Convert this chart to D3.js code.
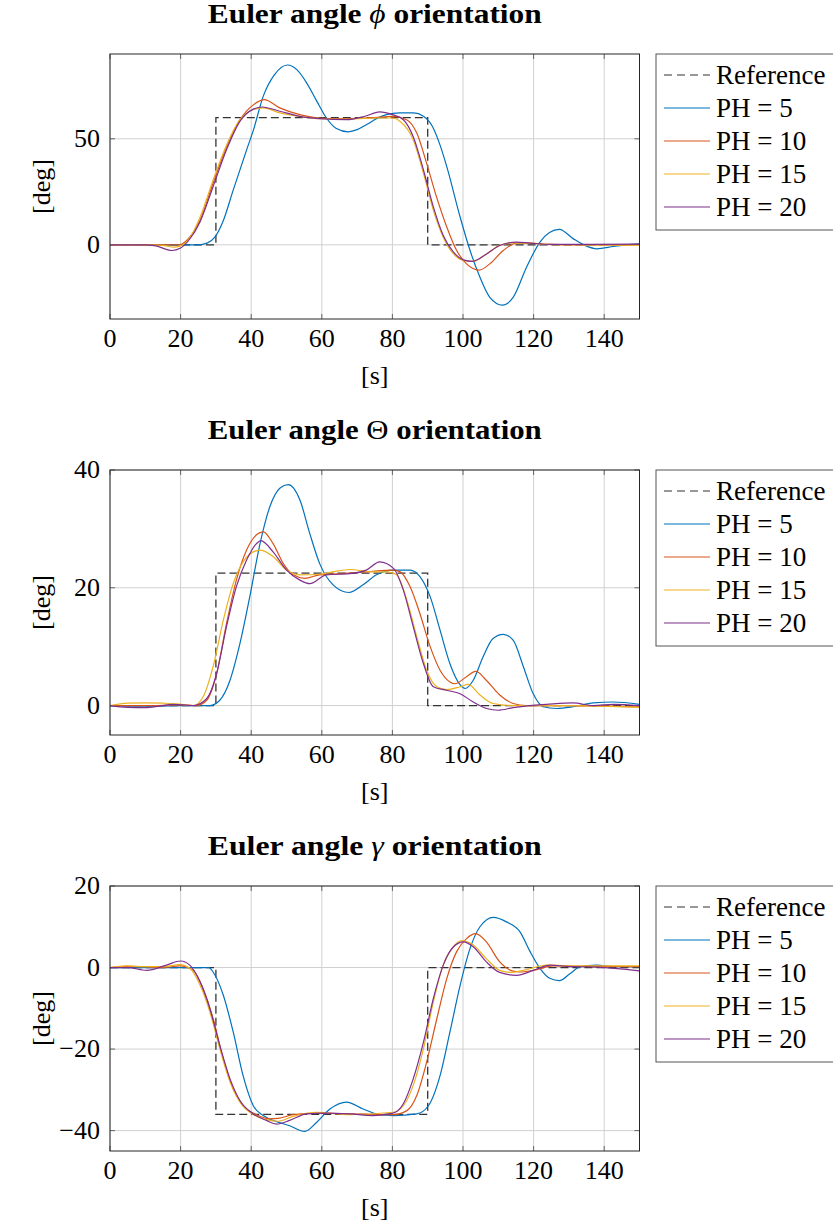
<!DOCTYPE html>
<html>
<head>
<meta charset="utf-8">
<script src="https://cdn.jsdelivr.net/npm/d3@7"></script>
<style>
    body { margin: 0; background: #fff; }
    text { font-family: "Liberation Serif", "DejaVu Serif", serif; fill: #000; }
</style>
</head>
<body>
<div id="chart"></div>
<script>
// x axis
const xTicks = [0, 20, 40, 60, 80, 100, 120, 140]
const seriesNames = ["PH = 5", "PH = 10", "PH = 15", "PH = 20"]
const seriesColors = ["#0072BD", "#D95319", "#EDB120", "#7E2F8E"]

/* PHI [t, deg] */
const phiRef = [[0, 0], [30, 60], [90, 0], [150, 0]]
const phiPH5 = [[0,0],[10,0],[20,0],[25,0],[27.5,0.8],[29.7,3.6],[32,11],[34.9,25.8],[38.7,44.8],[40.6,54],[43.4,70],[46.5,80],[50.3,84.8],[53,82.5],[55.7,76.4],[58.5,68],[61.3,59.8],[64,55],[67.5,53.3],[70,54.3],[72.6,56.6],[75.5,59.5],[78.3,61.4],[82,62.2],[86,62.2],[88.8,60.6],[91.6,55],[93.5,47],[95.4,36.9],[99.2,13],[102,-2.7],[104.8,-15.3],[107.6,-24.8],[111.2,-28.5],[114.2,-24.8],[118,-10.6],[121.8,1.3],[124.5,5.8],[127.3,7.3],[131.3,2.8],[134.6,-0.3],[137.9,-1.9],[142.6,-0.8],[146,0],[150,0.5]]
const phiPH10 = [[0,0],[10,0],[15,0],[19.8,0],[22,2.5],[25.5,11.6],[29.2,29],[33,46],[36.8,59],[40.6,66],[43.7,68.5],[48.1,64.6],[53.8,61.4],[59.4,59.8],[65,59.5],[70,59.6],[75,60],[80,60.6],[84,59],[86.9,52.7],[89.7,38.4],[92.5,22.6],[95.4,8.4],[98.2,-2.7],[101,-9],[104.6,-11.9],[107.6,-9],[111.4,-2.7],[115.2,0.8],[119,0.8],[123.7,0.2],[130,0],[150,0]]
const phiPH15 = [[0,0],[10,0],[15,-0.3],[18,-1.1],[20,-0.5],[22.5,3],[25.5,13],[29.2,30.5],[33,47],[36.8,59],[40.6,63.8],[43.4,64.6],[48.1,62.2],[53.8,60.6],[59.4,59.5],[65,59.3],[70,59.5],[75,59.8],[80,59.8],[82.2,58.2],[85.9,49.5],[88.8,33.7],[91.6,16.3],[94.4,3.6],[97.3,-4.3],[100.1,-7.4],[102.9,-7.8],[106.7,-4.3],[110.4,-0.3],[114.2,0.9],[119,0.8],[125,0.2],[135,0],[150,-0.3]]
const phiPH20 = [[0,0],[10,0],[13,-0.5],[17.5,-2.7],[20,-1.5],[22.5,2.5],[25.5,10.8],[29.2,27.4],[33,44.8],[36.8,58.2],[40.6,64],[43.1,65],[48.1,63],[53.8,60.6],[59.4,59.5],[67,59],[72,60.5],[76.4,62.7],[80,61.4],[83.1,59],[85.9,51],[88.8,35.3],[91.6,17.9],[94.4,4.4],[97.3,-3.5],[100.1,-7.1],[102.7,-7.8],[106.7,-4.3],[110.4,-0.3],[115.2,1.3],[119,0.8],[125,0.2],[150,0.3]]

/* THETA */
const thetaRef = [[0, 0], [30, 22.5], [90, 0], [150, 0]]
const thetaPH5 = [[0,0],[10,-0.1],[20,0],[25,0],[28.3,0],[31.1,0.9],[34,4.3],[36.8,10.5],[39.6,18.5],[42.5,27.5],[45.3,33.8],[48.1,36.9],[50.5,37.5],[53.8,34.9],[56.6,29.2],[59.4,24.1],[63.2,20.5],[67.7,19.2],[71.7,20.5],[75.5,22.2],[80.2,23],[85,23],[87.8,21.9],[90.7,18.5],[93.5,12.8],[96.3,7.1],[99.2,3.5],[100.6,2.9],[102.9,4.3],[105.7,8.3],[108.5,11.4],[111.4,12.1],[114.2,11.1],[117.1,6.6],[119.9,2],[122.7,-0.2],[126.5,-0.5],[131.2,-0.2],[136.9,0.45],[142.6,0.6],[150,0.2]]
const thetaPH10 = [[0,0],[10,0],[20,0.1],[24.5,0],[27.4,0.9],[30.2,5.4],[33,13.9],[35.8,21.3],[38.7,26.4],[41.5,29],[43.4,29.5],[46.2,27.5],[49.1,24.1],[51.9,22.2],[55.2,21.6],[59.4,22.2],[65.1,22.4],[72.6,22.7],[80.2,23],[82.2,22.7],[85,20.2],[87.8,15.6],[90.7,10],[93.5,6],[96.3,4],[97.7,3.7],[101,4.9],[103.6,5.8],[106.6,4.3],[110.4,1.8],[114.2,0.35],[117.9,0],[130,0],[150,-0.2]]
const thetaPH15 = [[0,0],[5,0.4],[10,0.45],[15,0.4],[18.9,0.3],[23.6,0],[26.4,1.5],[29.2,6.6],[32.1,14.5],[34.9,20.7],[37.7,24.4],[40.6,26.1],[42.6,26.4],[46.2,25.3],[50,23],[53.8,22.2],[59.4,22.3],[63,22.7],[67.9,23.1],[74.5,22.7],[78.4,22.7],[81.2,22.2],[84.1,17.9],[86.9,11.7],[89.7,6],[92.6,3.2],[95.4,2.7],[99.2,3.2],[101.5,3.6],[104.8,1.8],[108.5,0.35],[114.2,0],[130,0],[150,-0.3]]
const thetaPH20 = [[0,0],[5,-0.3],[10,-0.35],[14,-0.1],[17.9,0.2],[23.6,0],[27.4,1.2],[30.2,5.4],[33,13.4],[35.8,20.2],[38.7,24.7],[41.5,27.5],[42.7,28],[46.2,26.1],[50,23],[53.8,21.3],[56.6,20.7],[61.3,22.2],[67.9,22.4],[72.6,23],[76.4,24.4],[80.3,23.3],[83.1,19.6],[85.9,13.4],[88.8,7.1],[91.6,3.2],[95.4,2.6],[99.2,2],[102.9,0.6],[106.7,-0.5],[110,-0.8],[114.2,-0.35],[118.9,0],[123.6,0.2],[131.2,0.45],[136.9,0],[142.6,0.2],[150,0]]

/* GAMMA */
const gammaRef = [[0, 0], [30, -36], [90, 0], [150, 0]]
const gammaPH5 = [[0,0],[10,0],[20,0],[28,0],[29.2,-1.1],[32.1,-6.8],[34.9,-15.8],[37.7,-26.5],[40.6,-33.9],[43.4,-36.3],[47.2,-37.8],[50.9,-38.8],[55.2,-40.2],[58.5,-38],[62.3,-34.7],[67,-33],[71.7,-34.7],[76.4,-36.1],[80.2,-36.3],[86.9,-35.9],[90.2,-33.9],[93.5,-26.5],[96.3,-15.8],[99.2,-4.3],[102,4.7],[104.8,10],[108.6,12.3],[112.3,11.2],[116.1,8.8],[119,3.9],[121.8,-0.2],[124.7,-2.7],[127.3,-3.2],[130.3,-1.5],[133.2,0.2],[137.9,0.6],[142.6,0.2],[150,0.2]]
const gammaPH10 = [[0,0],[5,0.3],[10,0.2],[15,0],[19.8,0.4],[23.6,-0.7],[26.4,-5.2],[29.2,-12.5],[32.1,-22.4],[34.9,-29.8],[37.7,-33.9],[41.5,-36.1],[45.3,-37.1],[47.6,-37],[51.9,-36.1],[58.5,-35.7],[67.9,-35.9],[80.2,-36.1],[84.1,-35.1],[86.9,-31.4],[89.7,-23.2],[92.6,-12.5],[95.4,-2.7],[98.2,3.9],[101,7.1],[103.6,8.3],[106.6,6.3],[110.4,1.4],[114.2,-0.9],[116.1,-1.1],[119.9,-0.7],[125.6,0.4],[133.2,0.3],[150,0.2]]
const gammaPH15 = [[0,0],[4.7,0.4],[10,0.2],[15,0.2],[19.8,0.7],[22.6,-0.2],[25.5,-4.3],[28.3,-10.9],[31.1,-19.9],[34,-28.1],[36.8,-33],[40.6,-36.1],[44.3,-37.3],[47.6,-37.7],[51.9,-36.5],[58.5,-35.5],[67.9,-36.1],[80.2,-35.5],[83.1,-33.9],[85.9,-28.9],[88.8,-19.9],[91.6,-8.4],[94.4,0.6],[97.3,5.1],[99.6,6.6],[102.9,5.5],[106.6,2.2],[110.4,-0.7],[113.3,-1.2],[117.1,-0.7],[123.7,0.6],[133.2,0.4],[150,0.4]]
const gammaPH20 = [[0,0],[5,0],[10.4,-0.7],[16,0.6],[20,1.6],[22.6,0.6],[25.5,-3.5],[28.3,-10.1],[31.1,-19.1],[34,-27.3],[36.8,-32.6],[40.6,-35.9],[44.3,-37.5],[47.2,-38.4],[50.9,-37.5],[55.7,-35.9],[61.3,-35.7],[67.9,-35.9],[74.5,-36.3],[80.2,-35.7],[83.1,-33.4],[85.9,-27.3],[88.8,-18.3],[91.6,-7.6],[94.4,0.6],[97.3,5.1],[100.1,6.3],[102.9,5.1],[106.6,1.4],[110.4,-1.2],[115.2,-1.9],[119.9,-0.7],[124.7,0.6],[129.4,0.3],[137.9,0.1],[150,-0.8]]

const panels = [
    { symbol: "ϕ", italic: true, ref: phiRef, series: [phiPH5, phiPH10, phiPH15, phiPH20],
      yDomain: [-35, 90], yTicks: [0, 50], top: 54 },
    { symbol: "Θ", italic: false, ref: thetaRef, series: [thetaPH5, thetaPH10, thetaPH15, thetaPH20],
      yDomain: [-5, 40], yTicks: [0, 20, 40], top: 470 },
    { symbol: "γ", italic: true, ref: gammaRef, series: [gammaPH5, gammaPH10, gammaPH15, gammaPH20],
      yDomain: [-45, 20], yTicks: [-40, -20, 0, 20], top: 886 },
]

const W = 833, H = 1226
const plotLeft = 110, plotWidth = 529.5, plotHeight = 265
const fontSize = 26

const svg = d3.select("#chart").append("svg")
    .attr("width", W)
    .attr("height", H)

const fmt = d => d < 0 ? "\u2212" + Math.abs(d) : String(d)

panels.forEach((p, i) => {
    const g = svg.append("g")
        .attr("transform", `translate(${plotLeft}, ${p.top})`)

    const x = d3.scaleLinear().domain([0, 150]).range([0, plotWidth])
    const y = d3.scaleLinear().domain(p.yDomain).range([plotHeight, 0])

    // grid
    g.selectAll(".gx").data(xTicks).enter().append("line")
        .attr("x1", d => x(d)).attr("x2", d => x(d))
        .attr("y1", 0).attr("y2", plotHeight)
        .attr("stroke", "#d0d0d0").attr("stroke-width", 1)
    g.selectAll(".gy").data(p.yTicks).enter().append("line")
        .attr("x1", 0).attr("x2", plotWidth)
        .attr("y1", d => y(d)).attr("y2", d => y(d))
        .attr("stroke", "#d0d0d0").attr("stroke-width", 1)

    // inner tick marks
    const tl = 5
    xTicks.forEach(t => {
        g.append("line").attr("x1", x(t)).attr("x2", x(t)).attr("y1", plotHeight).attr("y2", plotHeight - tl)
            .attr("stroke", "#666")
        g.append("line").attr("x1", x(t)).attr("x2", x(t)).attr("y1", 0).attr("y2", tl)
            .attr("stroke", "#666")
    })
    p.yTicks.forEach(t => {
        g.append("line").attr("x1", 0).attr("x2", tl).attr("y1", y(t)).attr("y2", y(t))
            .attr("stroke", "#666")
        g.append("line").attr("x1", plotWidth).attr("x2", plotWidth - tl).attr("y1", y(t)).attr("y2", y(t))
            .attr("stroke", "#666")
    })

    // clip
    const clipId = "clip" + i
    g.append("clipPath").attr("id", clipId)
        .append("rect").attr("width", plotWidth).attr("height", plotHeight)

    const lines = g.append("g").attr("clip-path", `url(#${clipId})`)

    const refLine = d3.line().x(d => x(d[0])).y(d => y(d[1])).curve(d3.curveStepAfter)
    const smooth = d3.line().x(d => x(d[0])).y(d => y(d[1])).curve(d3.curveMonotoneX)

    lines.append("path")
        .attr("d", refLine(p.ref))
        .attr("fill", "none")
        .attr("stroke", "#333")
        .attr("stroke-width", 1.3)
        .attr("stroke-dasharray", "8,4")

    p.series.forEach((s, k) => {
        lines.append("path")
            .attr("d", smooth(s))
            .attr("fill", "none")
            .attr("stroke", seriesColors[k])
            .attr("stroke-width", 1.2)
    })

    // frame
    g.append("rect")
        .attr("width", plotWidth).attr("height", plotHeight)
        .attr("fill", "none").attr("stroke", "#262626").attr("stroke-width", 1)

    // tick labels
    g.selectAll(".xl").data(xTicks).enter().append("text")
        .attr("x", d => x(d)).attr("y", plotHeight + 28)
        .attr("text-anchor", "middle")
        .style("font-size", fontSize + "px")
        .text(fmt)
    g.selectAll(".yl").data(p.yTicks).enter().append("text")
        .attr("x", -10).attr("y", d => y(d) + 8)
        .attr("text-anchor", "end")
        .style("font-size", fontSize + "px")
        .text(fmt)

    // axis labels
    g.append("text")
        .attr("x", plotWidth / 2).attr("y", plotHeight + 65)
        .attr("text-anchor", "middle")
        .style("font-size", fontSize + "px")
        .text("[s]")
    g.append("text")
        .attr("transform", `translate(${50 - plotLeft}, ${plotHeight / 2}) rotate(-90)`)
        .attr("text-anchor", "middle")
        .style("font-size", fontSize + "px")
        .text("[deg]")

    // title
    const title = g.append("text")
        .attr("x", plotWidth / 2).attr("y", -31)
        .attr("text-anchor", "middle")
        .attr("textLength", 334)
        .attr("lengthAdjust", "spacingAndGlyphs")
        .style("font-size", "27px")
        .style("font-weight", "bold")
    title.append("tspan").text("Euler angle ")
    title.append("tspan")
        .style("font-weight", "normal")
        .style("font-style", p.italic ? "italic" : "normal")
        .text(p.symbol)
    title.append("tspan").text(" orientation")

    // legend
    const lg = svg.append("g").attr("transform", `translate(656, ${p.top})`)
    lg.append("rect")
        .attr("width", 190).attr("height", 176)
        .attr("fill", "#fff").attr("stroke", "#555").attr("stroke-width", 1)
    const entries = [{ name: "Reference", color: "#333", dash: "8,5" }]
        .concat(seriesNames.map((n, k) => ({ name: n, color: seriesColors[k], dash: null })))
    entries.forEach((e, k) => {
        const yy = 21 + k * 33
        lg.append("line")
            .attr("x1", 8).attr("x2", 54).attr("y1", yy).attr("y2", yy)
            .attr("stroke", e.color).attr("stroke-width", 1.2)
            .attr("stroke-dasharray", e.dash)
        lg.append("text")
            .attr("x", 60).attr("y", yy + 9)
            .style("font-size", "27px")
            .text(e.name)
    })
})
</script>
</body>
</html>
